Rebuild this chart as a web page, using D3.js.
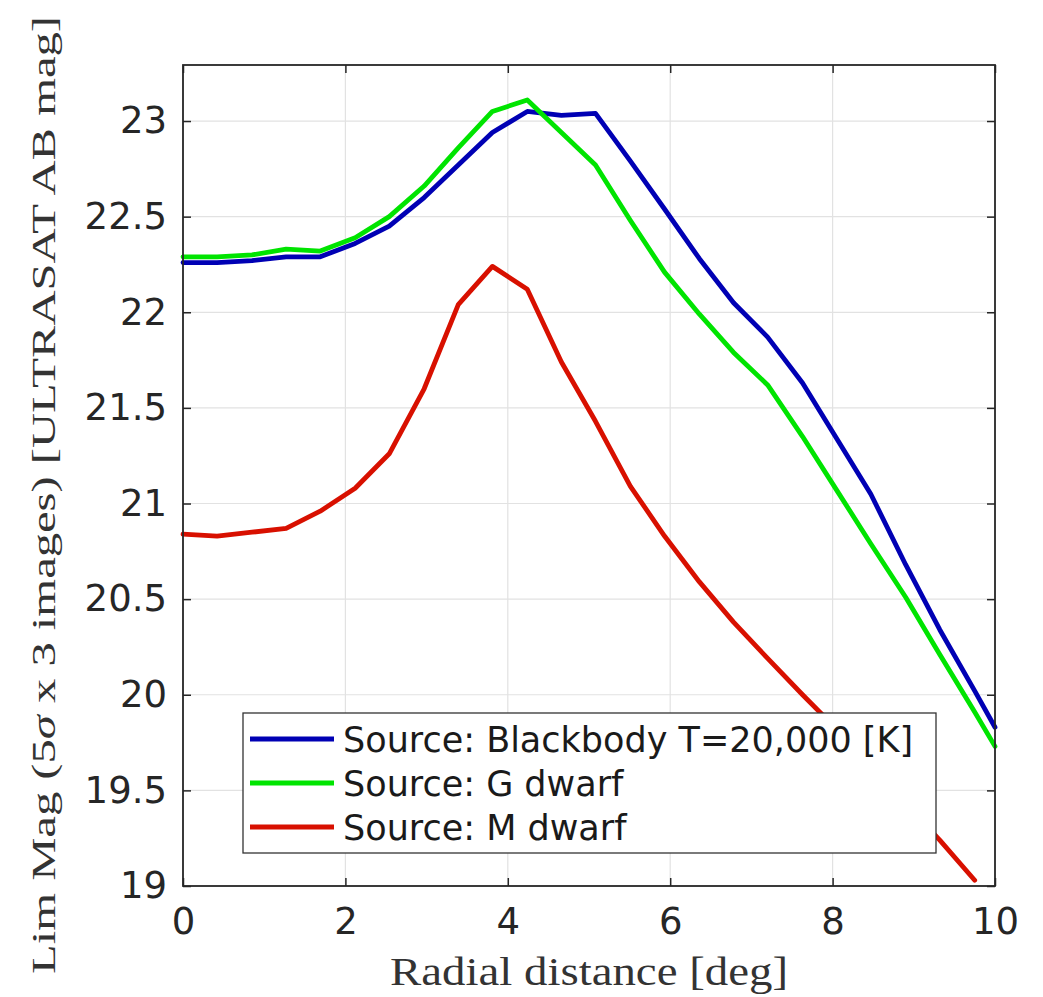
<!DOCTYPE html>
<html>
<head>
<meta charset="utf-8">
<script src="https://cdn.jsdelivr.net/npm/d3@7"></script>
<style>
  body { margin: 0; background: #fff; }
  svg { display: block; }
</style>
</head>
<body>
<div id="chart"></div>
<script>
// radial distance grid [deg]
const radius = [0, 0.42, 0.85, 1.27, 1.69, 2.12, 2.54, 2.97, 3.39, 3.81, 4.24, 4.66, 5.08,
  5.51, 5.93, 6.36, 6.78, 7.20, 7.63, 8.05, 8.47, 8.90, 9.32, 9.75, 10];

const blackbody = [22.26, 22.26, 22.27, 22.29, 22.29, 22.36, 22.45, 22.60, 22.77, 22.94, 23.05, 23.03, 23.04,
  22.79, 22.54, 22.28, 22.05, 21.87, 21.63, 21.34, 21.05, 20.68, 20.34, 20.02, 19.83];
const gDwarf = [22.29, 22.29, 22.30, 22.33, 22.32, 22.39, 22.50, 22.66, 22.86, 23.05, 23.11, 22.94, 22.77,
  22.48, 22.21, 21.99, 21.79, 21.62, 21.35, 21.07, 20.79, 20.51, 20.21, 19.91, 19.73];
const mDwarf = [20.84, 20.83, 20.85, 20.87, 20.96, 21.08, 21.26, 21.60, 22.04, 22.24, 22.12, 21.74, 21.43,
  21.09, 20.83, 20.59, 20.38, 20.19, 20.00, 19.82, 19.62, 19.43, 19.24, 19.03, null];

const seriesNames = ["Source: Blackbody T=20,000 [K]", "Source: G dwarf", "Source: M dwarf"];
const seriesColors = ["#0000b4", "#00e400", "#d81000"];
const xTicks = [0, 2, 4, 6, 8, 10];
const yTicks = [19, 19.5, 20, 20.5, 21, 21.5, 22, 22.5, 23];

function draw() {
  const width = 1043, height = 997;
  const margin = {left: 183, right: 48, top: 65, bottom: 111};

  const x = d3.scaleLinear().domain([0, 10]).range([margin.left, width - margin.right]);
  const y = d3.scaleLinear().domain([19, 23.293]).range([height - margin.bottom, margin.top]);

  const svg = d3.select('#chart').append('svg')
    .attr('width', width)
    .attr('height', height);

  const axisColor = "#262626";

  // grid
  svg.append("g")
    .selectAll("line")
    .data(xTicks)
    .join("line")
      .attr("x1", d => x(d)).attr("x2", d => x(d))
      .attr("y1", y.range()[0]).attr("y2", y.range()[1])
      .attr("stroke", "#e2e2e2").attr("stroke-width", 1.2);
  svg.append("g")
    .selectAll("line")
    .data(yTicks)
    .join("line")
      .attr("y1", d => y(d)).attr("y2", d => y(d))
      .attr("x1", x.range()[0]).attr("x2", x.range()[1])
      .attr("stroke", "#e2e2e2").attr("stroke-width", 1.2);

  // lines
  const line = d3.line()
    .defined(d => d[1] != null)
    .x(d => x(d[0]))
    .y(d => y(d[1]));

  const allSeries = [blackbody, gDwarf, mDwarf];
  svg.append("g")
    .selectAll("path")
    .data(allSeries)
    .join("path")
      .attr("d", s => line(radius.map((r, i) => [r, s[i]])))
      .attr("fill", "none")
      .attr("stroke", (d, i) => seriesColors[i])
      .attr("stroke-width", 4.8)
      .attr("stroke-linejoin", "round")
      .attr("stroke-linecap", "round");

  // axes with inward ticks on all four sides
  const tickLen = 8;
  const xb = d3.axisBottom(x).tickValues(xTicks).tickSizeInner(-tickLen).tickSizeOuter(0).tickPadding(22);
  const xt = d3.axisTop(x).tickValues(xTicks).tickSizeInner(-tickLen).tickSizeOuter(0).tickFormat("");
  const yl = d3.axisLeft(y).tickValues(yTicks).tickSizeInner(-tickLen).tickSizeOuter(0).tickPadding(16).tickFormat(d3.format("~g"));
  const yr = d3.axisRight(y).tickValues(yTicks).tickSizeInner(-tickLen).tickSizeOuter(0).tickFormat("");

  const gx = svg.append("g").attr("transform", `translate(0,${y.range()[0]})`).call(xb);
  svg.append("g").attr("transform", `translate(0,${y.range()[1]})`).call(xt);
  svg.append("g").attr("transform", `translate(${x.range()[0]},0)`).call(yl);
  svg.append("g").attr("transform", `translate(${x.range()[1]},0)`).call(yr);

  svg.selectAll(".domain").remove();
  svg.selectAll(".tick line").attr("stroke", axisColor).attr("stroke-width", 1.5);
  svg.selectAll(".tick text")
    .attr("fill", axisColor)
    .style("font-family", "'DejaVu Sans', sans-serif")
    .style("font-size", "37px");
  gx.selectAll(".tick text").attr("dy", "0.71em");

  // axes box
  svg.append("rect")
    .attr("x", x.range()[0]).attr("y", y.range()[1])
    .attr("width", x.range()[1] - x.range()[0])
    .attr("height", y.range()[0] - y.range()[1])
    .attr("fill", "none")
    .attr("stroke", axisColor)
    .attr("stroke-width", 1.8);

  // axis labels
  svg.append("text")
    .attr("x", (x.range()[0] + x.range()[1]) / 2)
    .attr("y", 985)
    .attr("text-anchor", "middle")
    .attr("textLength", 398)
    .attr("lengthAdjust", "spacingAndGlyphs")
    .style("font-family", "'Liberation Serif', serif")
    .style("font-size", "40px")
    .attr("fill", "#333")
    .text("Radial distance [deg]");

  const ylab = svg.append("text")
    .attr("transform", "translate(55,495) rotate(-90)")
    .attr("text-anchor", "middle")
    .attr("textLength", 958)
    .attr("lengthAdjust", "spacingAndGlyphs")
    .style("font-family", "'Liberation Serif', serif")
    .style("font-size", "33px")
    .attr("fill", "#333");
  ylab.append("tspan").text("Lim Mag (5");
  ylab.append("tspan").style("font-style", "italic").text("σ");
  ylab.append("tspan").text(" x 3 images) [ULTRASAT AB mag]");

  // legend
  const legend = svg.append("g");
  legend.append("rect")
    .attr("x", 243).attr("y", 713)
    .attr("width", 693).attr("height", 140)
    .attr("fill", "#fff")
    .attr("stroke", "#333").attr("stroke-width", 1.3);

  const item = legend.selectAll("g.item")
    .data(seriesNames)
    .join("g")
      .attr("class", "item")
      .attr("transform", (d, i) => `translate(0,${739 + i * 44})`);
  item.append("line")
    .attr("x1", 250).attr("x2", 334)
    .attr("stroke", (d, i) => seriesColors[i])
    .attr("stroke-width", 5);
  item.append("text")
    .attr("x", 343)
    .attr("dy", "0.36em")
    .style("font-family", "'DejaVu Sans', sans-serif")
    .style("font-size", "35px")
    .attr("fill", "#1a1a1a")
    .text(d => d);
}
draw()
</script>
</body>
</html>
